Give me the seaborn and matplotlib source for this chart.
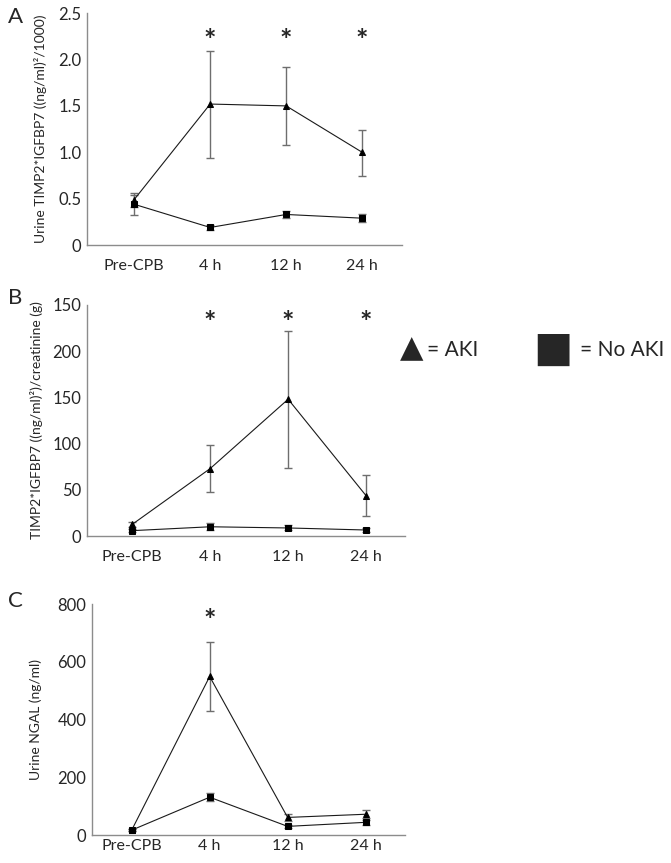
import pandas as pd
import matplotlib
matplotlib.use("Agg")
import matplotlib.pyplot as plt
import seaborn as sns

# --- data ---
timepoints = ["Pre-CPB", "4 h", "12 h", "24 h"]

# A: urine TIMP2*IGFBP7
a_aki = [0.49, 1.52, 1.50, 1.00]
a_aki_lo = [0.41, 0.94, 1.08, 0.745]
a_aki_hi = [0.565, 2.09, 1.92, 1.24]
a_noaki = [0.44, 0.19, 0.33, 0.29]
a_noaki_lo = [0.32, 0.16, 0.29, 0.25]
a_noaki_hi = [0.54, 0.22, 0.37, 0.33]

# B: TIMP2*IGFBP7 / creatinine
b_aki = [12.6, 73, 148, 43.6]
b_aki_lo = [9.5, 47.6, 74, 21.3]
b_aki_hi = [15.5, 99, 222, 65.7]
b_noaki = [5.8, 10, 8.7, 6.5]
b_noaki_lo = [3.8, 6, 6, 4.8]
b_noaki_hi = [7.8, 14.5, 11.5, 8.2]

# C: urine NGAL
c_aki = [17, 549, 61, 72]
c_aki_lo = [13, 431, 50, 60]
c_aki_hi = [21, 669, 73, 85]
c_noaki = [17, 131, 30, 44]
c_noaki_lo = [13, 118, 25, 36]
c_noaki_hi = [21, 145, 35, 52]

panels = [
    dict(letter="A", aki=(a_aki, a_aki_lo, a_aki_hi), noaki=(a_noaki, a_noaki_lo, a_noaki_hi),
         ylabel="Urine TIMP2*IGFBP7 ((ng/ml)\u00b2/1000)",
         yticks=[0, 0.5, 1.0, 1.5, 2.0, 2.5], yticklabels=["0", "0.5", "1.0", "1.5", "2.0", "2.5"],
         ylim=(0, 2.5), stars=[1, 2, 3], star_y=2.2,
         rect=[0.1297, 0.716, 0.469, 0.2688], xlim=(-0.62, 3.52), label_x=-0.127, xpad=10),
    dict(letter="B", aki=(b_aki, b_aki_lo, b_aki_hi), noaki=(b_noaki, b_noaki_lo, b_noaki_hi),
         ylabel="TIMP2*IGFBP7 ((ng/ml)\u00b2)/creatinine (g)",
         yticks=[0, 50, 100, 150, 200, 250], yticklabels=["0", "50", "100", "150", "200", "150"],
         ylim=(0, 250), stars=[1, 2, 3], star_y=230,
         rect=[0.1297, 0.3789, 0.474, 0.2677], xlim=(-0.58, 3.5), label_x=-0.14, xpad=10),
    dict(letter="C", aki=(c_aki, c_aki_lo, c_aki_hi), noaki=(c_noaki, c_noaki_lo, c_noaki_hi),
         ylabel="Urine NGAL (ng/ml)",
         yticks=[0, 200, 400, 600, 800], yticklabels=["0", "200", "400", "600", "800"],
         ylim=(0, 800), stars=[1], star_y=740,
         rect=[0.137, 0.0324, 0.466, 0.2677], xlim=(-0.51, 3.5), label_x=-0.16, xpad=3),
]

sns.set_style("white")
plt.rcParams["font.family"] = ["Lato", "DejaVu Sans"]

fig = plt.figure(figsize=(6.71, 8.63), dpi=100)
axis_grey = "#8c8c8c"

for p in panels:
    ax = fig.add_axes(p["rect"])
    rows = []
    for group, (vals, lo, hi) in [("No AKI", p["noaki"]), ("AKI", p["aki"])]:
        for t, v, l, h in zip(timepoints, vals, lo, hi):
            rows.append(dict(time=t, value=v, lo=l, hi=h, group=group))
    df = pd.DataFrame(rows)
    df["pos"] = df["time"].map({t: i for i, t in enumerate(timepoints)})

    for group, mk, ms in [("No AKI", "s", 4), ("AKI", "^", 5)]:
        sub = df[df["group"] == group]
        ax.errorbar(sub["pos"], sub["value"],
                    yerr=[sub["value"] - sub["lo"], sub["hi"] - sub["value"]],
                    fmt="none", ecolor="#6e6e6e", elinewidth=1.0, capsize=2.8, capthick=1.0, zorder=2)
        sns.lineplot(data=sub, x="pos", y="value", ax=ax, color="#1a1a1a", linewidth=0.8,
                     marker=mk, markersize=ms, markeredgecolor="black", markerfacecolor="black",
                     zorder=3, errorbar=None, legend=False)

    for i in p["stars"]:
        ax.text(i, p["star_y"], "*", ha="center", va="center", fontsize=21, fontweight="bold")

    ax.set_xlim(*p["xlim"])
    ax.set_ylim(*p["ylim"])
    ax.set_xticks(range(len(timepoints)))
    ax.set_xticklabels(timepoints, fontsize=11.5)
    ax.set_yticks(p["yticks"])
    ax.set_yticklabels(p["yticklabels"], fontsize=12)
    ax.tick_params(axis="y", length=0, pad=4)
    ax.tick_params(axis="x", length=0, pad=p["xpad"])
    ax.set_xlabel("")
    ax.set_ylabel(p["ylabel"], fontsize=10)
    ax.yaxis.set_label_coords(p["label_x"], 0.5)
    for s in ["top", "right"]:
        ax.spines[s].set_visible(False)
    for s in ["left", "bottom"]:
        ax.spines[s].set_color(axis_grey)
        ax.spines[s].set_linewidth(1.0)

# panel letters
fig.text(0.012, 1 - 17 / 863, "A", fontsize=16, va="center")
fig.text(0.012, 1 - 298 / 863, "B", fontsize=16, va="center")
fig.text(0.012, 1 - 601 / 863, "C", fontsize=16, va="center")

# legend drawn as marker glyphs + text
fig.text(400 / 671, 1 - 348 / 863, "\u25B2", fontsize=22, va="center", ha="left")
fig.text(427 / 671, 1 - 350 / 863, "= AKI", fontsize=15, va="center", ha="left")
fig.text(533 / 671, 1 - 349 / 863, "\u25A0", fontsize=30, va="center", ha="left")
fig.text(580 / 671, 1 - 350 / 863, "= No AKI", fontsize=15, va="center", ha="left")

fig.savefig("out.png", dpi=100)
